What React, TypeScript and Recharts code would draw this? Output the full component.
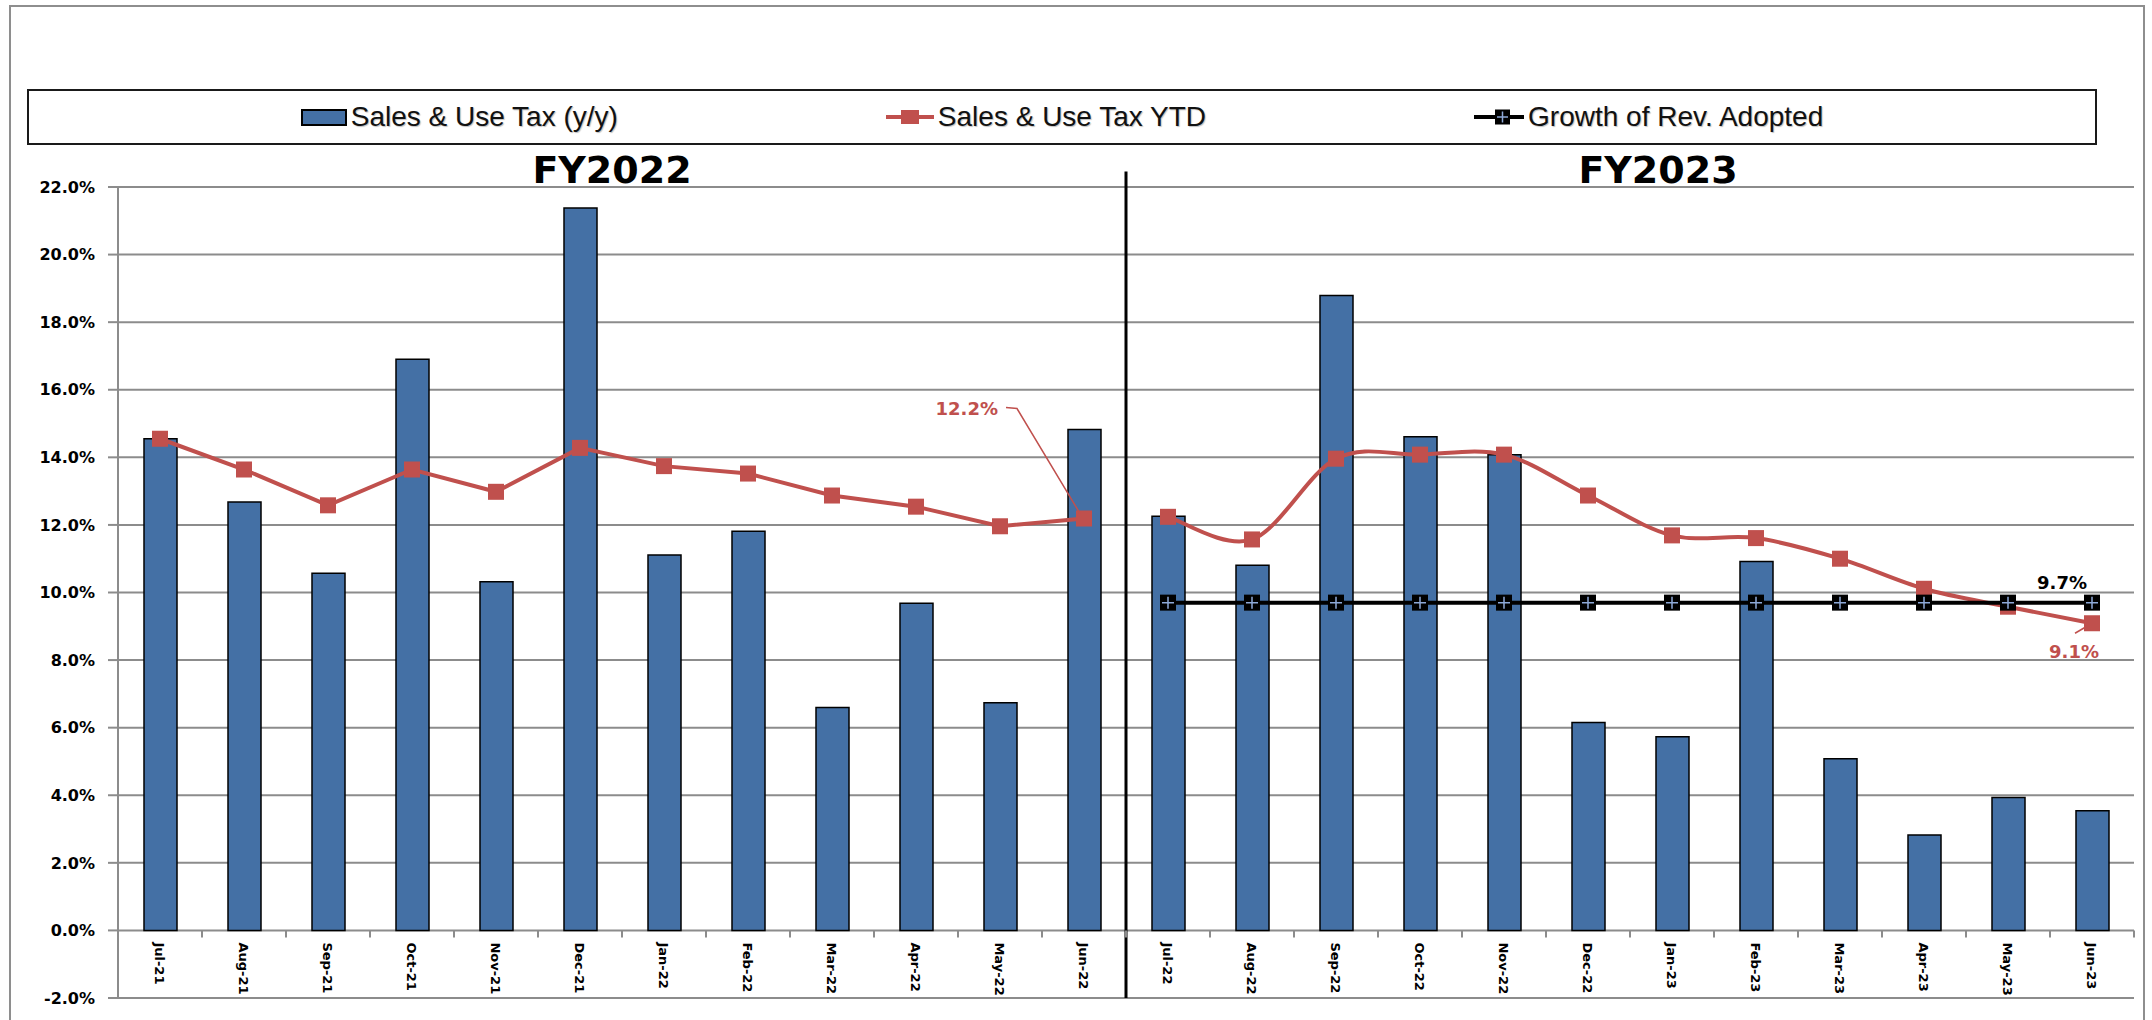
import {
  ComposedChart,
  Bar,
  Line,
  XAxis,
  YAxis,
  CartesianGrid,
  ReferenceLine,
  Legend,
  LabelList,
  Customized,
} from 'recharts'

const months = [
  'Jul-21', 'Aug-21', 'Sep-21', 'Oct-21', 'Nov-21', 'Dec-21',
  'Jan-22', 'Feb-22', 'Mar-22', 'Apr-22', 'May-22', 'Jun-22',
  'Jul-22', 'Aug-22', 'Sep-22', 'Oct-22', 'Nov-22', 'Dec-22',
  'Jan-23', 'Feb-23', 'Mar-23', 'Apr-23', 'May-23', 'Jun-23',
]

// Sales & Use Tax, y/y growth (%)
const salesTaxYoY = [
  14.55, 12.68, 10.57, 16.9, 10.32, 21.38, 11.11, 11.81, 6.6, 9.68, 6.74, 14.82,
  12.26, 10.81, 18.79, 14.61, 14.08, 6.15, 5.73, 10.92, 5.08, 2.82, 3.93, 3.54,
]

// YTD growth, one run per fiscal year
const ytdFY2022 = [14.55, 13.64, 12.58, 13.64, 12.98, 14.28, 13.74, 13.52, 12.87, 12.54, 11.96, 12.19]
const ytdFY2023 = [12.24, 11.57, 13.96, 14.08, 14.08, 12.87, 11.69, 11.61, 11.0, 10.11, 9.58, 9.09]

// adopted revenue growth, FY2023 only
const growthAdopted = [9.7, 9.7, 9.7, 9.7, 9.7, 9.7, 9.7, 9.7, 9.7, 9.7, 9.7, 9.7]

const yTicks = [-2, 0, 2, 4, 6, 8, 10, 12, 14, 16, 18, 20, 22]
const fyTitles = ['FY2022', 'FY2023']
const legendOrder = ['yoy', 'ytd22', 'growth']

const W = 2152
const H = 1020
const MARGIN = { top: 187, right: 18, bottom: 0, left: 0 }
const Y_AXIS_W = 118
const X_AXIS_H = 22
const PLOT_W = W - MARGIN.left - MARGIN.right - Y_AXIS_W
const PLOT_H = H - MARGIN.top - MARGIN.bottom - X_AXIS_H
const Y_MIN = yTicks[0]
const Y_MAX = yTicks[yTicks.length - 1]
const BAND = PLOT_W / months.length
const ZERO_UP = (PLOT_H * (0 - Y_MIN)) / (Y_MAX - Y_MIN)

const BLUE = '#4470A5'
const RED = '#C0504D'
const GRID = '#8c8c8c'
const PLUS = '#8EA9D8'
const AXIS_FONT = '"DejaVu Sans", Verdana, sans-serif'
const LEGEND_FONT = '"Liberation Sans", Arial, sans-serif'

const split = ytdFY2022.length

const data = months.map((month, i) => ({
  month,
  yoy: salesTaxYoY[i],
  ytd22: i < split ? ytdFY2022[i] : null,
  ytd23: i >= split ? ytdFY2023[i - split] : null,
  growth: i >= split ? growthAdopted[i - split] : null,
}))

// Excel-style smoothed line (Catmull-Rom through the points)
function smoothCurve(context: any) {
  let pts: number[][] = []
  return {
    areaStart() {},
    areaEnd() {},
    lineStart() {
      pts = []
    },
    point(x: number, y: number) {
      pts.push([x, y])
    },
    lineEnd() {
      if (!pts.length) return
      context.moveTo(pts[0][0], pts[0][1])
      for (let i = 0; i < pts.length - 1; i++) {
        const p0 = pts[i - 1] || pts[i]
        const p1 = pts[i]
        const p2 = pts[i + 1]
        const p3 = pts[i + 2] || p2
        context.bezierCurveTo(
          p1[0] + (p2[0] - p0[0]) / 6,
          p1[1] + (p2[1] - p0[1]) / 6,
          p2[0] - (p3[0] - p1[0]) / 6,
          p2[1] - (p3[1] - p1[1]) / 6,
          p2[0],
          p2[1],
        )
      }
    },
  }
}

function MonthTick(props: any) {
  const { x, y, payload, index } = props
  const y0 = y - ZERO_UP
  const last = index === months.length - 1
  return (
    <g>
      <line x1={x - BAND / 2} x2={x - BAND / 2} y1={y0} y2={y0 + 7} stroke={GRID} strokeWidth={2} />
      {last && <line x1={x + BAND / 2} x2={x + BAND / 2} y1={y0} y2={y0 + 7} stroke={GRID} strokeWidth={2} />}
      <text
        transform={`translate(${x - 1},${y0 + 12}) rotate(90)`}
        textAnchor="start"
        dominantBaseline="central"
        fontSize={13}
        fontWeight={700}
        fontFamily={AXIS_FONT}
        fill="#000"
      >
        {payload.value}
      </text>
    </g>
  )
}

const squareDot = (props: any) => {
  const { cx, cy, index } = props
  if (cx == null || cy == null) return <g key={index} />
  return <rect key={index} x={cx - 8} y={cy - 8} width={16} height={16} fill={RED} />
}

const plusDot = (props: any) => {
  const { cx, cy, index } = props
  if (cx == null || cy == null) return <g key={index} />
  return (
    <g key={index}>
      <rect x={cx - 8} y={cy - 8} width={16} height={16} fill="#000" />
      <path d={`M${cx - 6},${cy}H${cx + 6}M${cx},${cy - 6}V${cy + 6}`} stroke={PLUS} strokeWidth={1.5} />
    </g>
  )
}

function pointOf(p: any) {
  return { x: p.viewBox?.x ?? p.x, y: p.viewBox?.y ?? p.y }
}

const pct = (v: number) => `${Number(v).toFixed(1)}%`

const labelStyle = { fontSize: 18, fontWeight: 700, fontFamily: AXIS_FONT }

function Ytd22Label(p: any) {
  if (p.value == null || p.index !== split - 1) return null
  const { x, y } = pointOf(p)
  return (
    <g>
      <path d={`M${x - 78},${y - 111}L${x - 67},${y - 110}L${x - 4},${y - 5}`} fill="none" stroke={RED} strokeWidth={1.5} />
      <text x={x - 86} y={y - 110} textAnchor="end" dominantBaseline="central" fill={RED} {...labelStyle}>
        {pct(p.value)}
      </text>
    </g>
  )
}

function Ytd23Label(p: any) {
  if (p.value == null || (p.index !== months.length - 1 && p.index !== ytdFY2023.length - 1)) return null
  const { x, y } = pointOf(p)
  return (
    <g>
      <path d={`M${x - 17},${y + 10}L${x - 5},${y + 3}`} fill="none" stroke={RED} strokeWidth={1.5} />
      <text x={x - 18} y={y + 28} textAnchor="middle" dominantBaseline="central" fill={RED} {...labelStyle}>
        {pct(p.value)}
      </text>
    </g>
  )
}

function GrowthLabel(p: any) {
  if (p.value == null || (p.index !== months.length - 1 && p.index !== growthAdopted.length - 1)) return null
  const { x, y } = pointOf(p)
  return (
    <text x={x - 30} y={y - 20} textAnchor="middle" dominantBaseline="central" fill="#000" {...labelStyle}>
      {pct(p.value)}
    </text>
  )
}

function LegendIcon({ dataKey }: { dataKey: string }) {
  if (dataKey === 'yoy') {
    return (
      <svg width={46} height={17}>
        <rect x={1} y={1} width={44} height={15} fill={BLUE} stroke="#000" strokeWidth={2} />
      </svg>
    )
  }
  if (dataKey === 'ytd22') {
    return (
      <svg width={48} height={18}>
        <line x1={0} x2={48} y1={9} y2={9} stroke={RED} strokeWidth={4} />
        <rect x={15} y={2} width={18} height={14} fill={RED} />
      </svg>
    )
  }
  return (
    <svg width={50} height={18}>
      <line x1={0} x2={50} y1={9} y2={9} stroke="#000" strokeWidth={4} />
      <rect x={21} y={1.5} width={15} height={15} fill="#000" />
      <path d="M23,9H34M28.5,3.5V14.5" stroke={PLUS} strokeWidth={1.5} />
    </svg>
  )
}

function LegendBox(props: any) {
  const items = (props.payload || [])
    .filter((it: any) => legendOrder.includes(it.dataKey))
    .sort((a: any, b: any) => legendOrder.indexOf(a.dataKey) - legendOrder.indexOf(b.dataKey))
  return (
    <div
      style={{
        display: 'flex',
        justifyContent: 'center',
        alignItems: 'center',
        gap: 268,
        height: '100%',
        fontFamily: LEGEND_FONT,
        fontSize: 28,
        color: '#111',
        textShadow: '1px 1px 1px rgba(0,0,0,0.25)',
      }}
    >
      {items.map((it: any) => (
        <div key={it.dataKey} style={{ display: 'flex', alignItems: 'center', gap: 4, whiteSpace: 'nowrap' }}>
          <LegendIcon dataKey={it.dataKey} />
          <span>{it.value}</span>
        </div>
      ))}
    </div>
  )
}

function FyTitles() {
  const centers = [612, 1658]
  return (
    <g>
      {fyTitles.map((t, i) => (
        <text key={t} x={centers[i]} y={183} textAnchor="middle" fontSize={38} fontWeight={700} fontFamily={AXIS_FONT} fill="#000">
          {t}
        </text>
      ))}
    </g>
  )
}

export default function App() {
  return (
    <div style={{ position: 'absolute', left: 0, top: 0, width: W, height: H, overflow: 'hidden', background: '#fff' }}>
      <div
        style={{
          position: 'absolute',
          left: 9,
          top: 5,
          width: 2136,
          height: 1060,
          border: '2px solid #8e8e8e',
          boxSizing: 'border-box',
        }}
      />
      <div style={{ position: 'absolute', left: 0, top: 0 }}>
        <ComposedChart width={W} height={H} data={data} margin={MARGIN}>
          <CartesianGrid vertical={false} stroke={GRID} strokeWidth={2} />
          <XAxis
            dataKey="month"
            height={X_AXIS_H}
            interval={0}
            tickLine={false}
            axisLine={false}
            tickSize={0}
            tickMargin={0}
            tick={<MonthTick />}
          />
          <YAxis
            width={Y_AXIS_W}
            domain={[Y_MIN, Y_MAX]}
            ticks={yTicks}
            tickFormatter={(v: number) => pct(v)}
            tickSize={10}
            tickMargin={13}
            tickLine={{ stroke: GRID, strokeWidth: 2 }}
            axisLine={{ stroke: GRID, strokeWidth: 2 }}
            tick={{ fill: '#000', fontSize: 16, fontWeight: 700, fontFamily: AXIS_FONT }}
          />
          <Legend
            layout="horizontal"
            verticalAlign="middle"
            align="center"
            content={<LegendBox />}
            wrapperStyle={{
              left: 27,
              top: 89,
              width: 2070,
              height: 56,
              border: '2px solid #1a1a1a',
              boxSizing: 'border-box',
              background: '#fff',
            }}
          />
          <Bar
            dataKey="yoy"
            name="Sales & Use Tax (y/y)"
            fill={BLUE}
            stroke="#000"
            strokeWidth={1.5}
            barSize={33}
            isAnimationActive={false}
          />
          <Line
            dataKey="ytd22"
            name="Sales & Use Tax YTD"
            type="linear"
            stroke={RED}
            strokeWidth={4}
            dot={squareDot}
            activeDot={false}
            isAnimationActive={false}
          >
            <LabelList dataKey="ytd22" content={<Ytd22Label />} />
          </Line>
          <Line
            dataKey="ytd23"
            name="Sales & Use Tax YTD"
            legendType="none"
            type={smoothCurve as any}
            stroke={RED}
            strokeWidth={4}
            dot={squareDot}
            activeDot={false}
            isAnimationActive={false}
          >
            <LabelList dataKey="ytd23" content={<Ytd23Label />} />
          </Line>
          <Line
            dataKey="growth"
            name="Growth of Rev. Adopted"
            type="linear"
            stroke="#000"
            strokeWidth={4}
            dot={plusDot}
            activeDot={false}
            isAnimationActive={false}
          >
            <LabelList dataKey="growth" content={<GrowthLabel />} />
          </Line>
          <ReferenceLine
            segment={[
              { x: months[split], y: 22.46 },
              { x: months[split], y: Y_MIN },
            ]}
            position="start"
            stroke="#000"
            strokeWidth={3}
            ifOverflow="visible"
          />
          <Customized component={<FyTitles />} />
        </ComposedChart>
      </div>
    </div>
  )
}
